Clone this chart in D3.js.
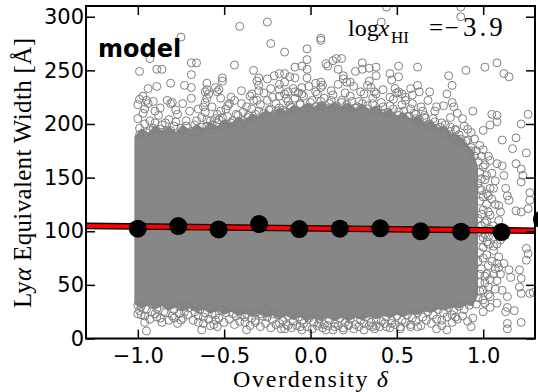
<!DOCTYPE html>
<html>
<head>
<meta charset="utf-8">
<script src="https://cdn.jsdelivr.net/npm/d3@7"></script>
<style>
  html, body { margin: 0; padding: 0; background: #fff; }
  svg { display: block; }
</style>
</head>
<body>
<svg id="chart" width="538" height="392"></svg>
<script>
// ---- data -------------------------------------------------------------
// Binned mean equivalent width versus overdensity
const binX = [-1.0, -0.766, -0.532, -0.298, -0.065, 0.17, 0.404, 0.638, 0.872, 1.106, 1.34];
const binMean = [102.4, 104.8, 101.7, 106.7, 102.0, 102.4, 102.7, 99.9, 99.6, 99.2, 111];

// Linear fit through the binned means
const fitX = [-1.3, 1.3];
const fitY = [105.0, 100.5];

// Envelope of the densely packed part of the sample
const coreX = [-1.02, -0.98, -0.94, -0.90, -0.86, -0.82, -0.78, -0.74, -0.70, -0.66, -0.62, -0.58, -0.54,
  -0.50, -0.46, -0.42, -0.38, -0.34, -0.30, -0.26, -0.22, -0.18, -0.14, -0.10, -0.06, -0.02, 0.02, 0.06,
  0.10, 0.14, 0.18, 0.22, 0.26, 0.30, 0.34, 0.38, 0.42, 0.46, 0.50, 0.54, 0.58, 0.62, 0.66, 0.70, 0.74,
  0.78, 0.82, 0.86, 0.90, 0.94, 0.97];
const coreTop = [188, 196, 192, 199, 194, 198, 193, 199, 195, 200, 196, 202, 198,
  204, 201, 207, 204, 210, 207, 213, 210, 216, 212, 218, 214, 220, 216, 221,
  217, 221, 216, 220, 215, 219, 214, 217, 211, 214, 208, 211, 205, 207, 201, 203, 197,
  198, 191, 190, 182, 176, 160];
const coreBottom = [32, 28, 31, 27, 30, 26, 29, 25, 28, 24, 27, 23, 26,
  22, 25, 21, 24, 20, 23, 19, 22, 18, 21, 17, 20, 16, 19, 16,
  19, 16, 19, 16, 19, 17, 20, 18, 21, 19, 22, 20, 23, 22, 25, 24, 27,
  26, 29, 28, 31, 30, 40];

// Individual galaxies outside the dense core: [overdensity, EW]
const sparse = [
  [-0.75,281],[-0.41,291],[-0.25,295],[0.41,295],[0.44,309],[0.87,300],[0.87,309],[0.06,280],[0.06,278],
  [-0.23,275],[-0.15,267],[-0.02,270],[-0.93,261],[-0.99,249],[-0.89,251],[-0.86,251],[-0.69,257],[-0.66,257],
  [-0.69,246],[-0.44,255],[-0.51,243],[-0.33,250],[-0.30,243],[-0.21,245],[-0.18,247],[-0.15,247],[-0.12,244],
  [-0.09,243],[-0.09,253],[-0.05,254],[-0.02,260],[0.10,254],[0.13,259],[0.15,261],[0.18,261],[0.16,251],
  [0.19,245],[0.30,257],[0.30,251],[0.34,252],[0.38,253],[0.38,245],[0.26,249],[0.51,254],[0.51,244],[0.62,253],
  [0.80,245],[0.90,250],[1.01,253],[1.08,257],[1.12,247],[1.15,244],[-0.81,238],[-0.69,234],[-0.73,236],
  [-0.94,233],[-0.99,223],[-0.97,226],[-0.89,235],[-0.60,238],[-0.61,230],[-0.60,232],[-0.55,234],[-0.53,232],
  [-0.51,240],[-0.40,231],[-0.31,240],[-0.30,236],[-0.30,231],[-0.46,225],[-0.95,222],[-0.94,219],[-0.80,220],
  [-0.81,219],[-0.90,212],[-0.54,230],[-0.59,228],[-0.60,224],[-0.62,216],[-0.61,211],[-0.47,219],[-0.49,214],
  [-0.52,212],[-0.54,209],[-0.55,205],[-0.34,228],[-0.33,222],[-0.37,216],[-0.25,242],[-0.23,233],[-0.18,237],
  [-0.15,239],[-0.15,228],[-0.13,230],[-0.09,230],[-0.07,229],[-0.05,234],[-0.02,243],[-0.02,251],[0.03,238],
  [0.06,239],[0.06,234],[0.09,256],[0.19,242],[0.21,239],[0.23,239],[0.34,240],[0.35,234],[0.37,230],[0.46,247],
  [0.47,241],[0.49,233],[0.50,229],[0.58,233],[0.62,236],[0.63,230],[0.69,230],[0.82,236],[0.79,228],[0.82,220],
  [0.83,216],[0.94,212],[0.88,205],[0.91,195],[1.05,209],[1.08,208],[1.08,202],[1.04,199],[1.00,194],[0.84,194],
  [0.95,186],[1.26,209],[1.22,200],[1.19,187],[1.11,185],[0.59,219],[0.61,209],[0.65,212],[0.73,216],[0.53,228],
  [0.55,225],
  [1.25,173],[1.22,158],[1.23,152],[1.22,146],[1.27,136],[1.27,129],[1.26,121],[1.14,133],[1.15,129],[1.19,119],
  [1.22,118],[1.25,84],[1.26,79],[1.25,73],[1.21,64],[1.22,56],[1.21,48],[1.22,42],[1.27,42],[1.15,64],[1.16,57],
  [1.13,25],[1.14,14],[1.22,15],[1.18,26],[1.04,166],[1.08,163],[1.11,161],[1.05,154],[1.07,147],[1.02,135],
  [1.05,130],[1.09,124],[1.10,118],[1.03,88],[1.06,82],[1.09,76],[1.08,70],[1.10,60],[1.08,54],[1.11,45],
  [1.14,39],[1.14,29],[1.03,48],[1.04,39],[1.01,33],[1.00,25],[0.94,19],[0.93,11],[0.79,8],[1.17,177],[1.19,163],
  [-1.00,31],[-1.00,23],[-0.98,22],[-0.96,15],[-0.95,7],[-0.92,25],[-0.89,20],[-0.86,15],[-0.82,17],[-0.79,19],
  [-0.76,23],[-0.75,17],[-0.67,25],[-0.65,15],[-0.63,8],[-0.62,20],[-0.57,23],[-0.55,17],[-0.54,11],[-0.58,12],
  [-0.45,23],[-0.40,22],[-0.37,8],[-0.38,15],[-0.32,17],[-0.29,23],[-0.25,20],[-0.22,23],[-0.18,14],[-0.15,9],
  [-0.13,12],[-0.06,11],[-0.05,17],[0.05,14],[0.09,8],[0.14,11],[0.19,8],[0.22,12],[0.31,14],[0.36,11],[0.38,12],
  [0.44,11],[0.47,14],[0.52,9],[0.58,11],[0.62,11],[0.73,9],[0.82,15],[0.84,20],[0.76,17],[1.04,29],[1.08,33],
  [1.14,9],[1.29,43]
];

// Galaxies crowding the rim of the dense core: [overdensity, EW]
const rimUpper = [
  [-1.00,205],[-0.99,196],[-0.97,210],[-0.95,192],[-0.93,203],[-0.91,196],[-0.88,208],[-0.86,199],[-0.84,193],
  [-0.82,204],[-0.79,198],[-0.77,209],[-0.74,194],[-0.72,203],[-0.70,212],[-0.67,199],[-0.65,193],[-0.63,206],
  [-0.60,198],[-0.58,203],[-0.56,195],[-0.53,204],[-0.50,199],[-0.48,207],[-0.46,201],[-0.43,209],[-0.41,199],
  [-0.39,211],[-0.36,206],[-0.34,214],[-0.32,209],[-0.29,218],[-0.27,210],[-0.25,222],[-0.23,214],[-0.20,219],
  [-0.18,226],[-0.16,213],[-0.13,221],[-0.11,216],[-0.09,224],[-0.06,218],[-0.04,226],[-0.01,215],[0.01,222],
  [0.04,228],[0.06,217],[0.08,224],[0.11,219],[0.13,227],[0.16,214],[0.18,222],[0.21,218],[0.23,226],[0.26,215],
  [0.28,221],[0.31,228],[0.33,217],[0.36,224],[0.38,213],[0.41,220],[0.43,210],[0.46,217],[0.48,223],[0.51,211],
  [0.53,218],[0.56,207],[0.58,214],[0.61,205],[0.63,201],[0.66,208],[0.68,199],[0.71,205],[0.73,196],[0.76,201],
  [0.78,190],[0.81,197],[0.83,186],[0.86,190],[0.88,182],[0.91,185],[0.93,178],
  [-1.00,218],[-0.96,214],[-0.91,221],[-0.87,215],[-0.83,222],[-0.78,213],[-0.74,219],[-0.69,224],[-0.65,214],
  [-0.61,220],[-0.57,216],[-0.52,224],[-0.48,217],[-0.44,222],[-0.40,219],[-0.35,226],[-0.31,222],[-0.27,229],
  [-0.22,225],[-0.18,232],[-0.14,224],[-0.10,233],[-0.05,228],[-0.01,235],[0.03,230],[0.07,236],[0.12,231],
  [0.16,237],[0.20,229],[0.25,235],[0.29,230],[0.33,236],[0.38,228],[0.42,232],[0.46,225],[0.51,230],[0.55,222],
  [0.59,227],[0.64,216],[0.68,222],[0.72,212],[0.77,217],[0.81,206],[0.85,210],[0.89,198],[0.93,192],
  [-0.99,190],[-0.96,200],[-0.93,194],[-0.90,201],[-0.87,195],[-0.84,201],[-0.81,194],[-0.78,202],[-0.75,196],
  [-0.72,198],[-0.69,193],[-0.66,203],[-0.63,197],[-0.60,204],[-0.57,199],[-0.54,201],[-0.51,206],[-0.48,200],
  [-0.45,203],[-0.42,208],[-0.39,203],[-0.36,208],[-0.33,205],[-0.30,212],[-0.27,207],[-0.24,213],[-0.21,209],
  [-0.18,215],[-0.15,211],[-0.12,217],[-0.09,213],[-0.06,219],[-0.03,214],[0.00,220],[0.03,216],[0.06,221],
  [0.09,215],[0.12,222],[0.15,217],[0.18,220],[0.21,215],[0.24,221],[0.27,216],[0.30,219],[0.33,214],[0.36,219],
  [0.39,213],[0.42,216],[0.45,211],[0.48,214],[0.51,208],[0.54,212],[0.57,207],[0.60,210],[0.63,204],[0.66,206],
  [0.69,200],[0.72,202],[0.75,197],[0.78,199],[0.81,193],[0.84,195],[0.87,186],[0.90,184],[0.93,175],[0.95,170]
];

const rimRight = [
  [0.96,175],[0.97,165],[0.99,170],[0.98,155],[1.00,160],[0.97,145],[0.99,138],[1.01,148],[0.98,128],[1.00,120],
  [1.02,125],[0.97,112],[0.99,105],[1.01,98],[0.98,92],[1.00,85],[1.02,78],[0.97,72],[0.99,65],[1.01,58],
  [0.98,52],[1.00,45],[0.97,38],[1.02,110],[1.04,115],[1.06,105],[1.03,95],[1.05,72],[1.07,65],[1.04,140],
  [1.02,60],[1.06,95],[1.08,88],[1.04,55],
  [0.98,180],[1.00,176],[0.99,149],[1.01,162],[1.03,170],[1.02,152],[0.98,140],[1.00,132],[1.03,133],[0.99,116],
  [1.01,108],[1.03,118],[0.98,100],[1.00,94],[1.02,90],[1.04,102],[0.98,80],[1.00,75],[1.03,68],[0.98,60],
  [1.01,52],[1.03,41],[0.98,44],[1.00,36],[0.96,32],[1.06,140],[1.07,125],[1.09,110],[1.06,86],[1.08,98],
  [1.10,92],[1.06,60],[1.09,66],[1.07,46],[1.12,100],[1.12,70],[1.13,140],[1.12,152]
];

const rimLower = [
  [-0.98,30],[-0.95,27],[-0.92,32],[-0.89,28],[-0.85,25],[-0.82,31],[-0.79,27],[-0.76,30],[-0.73,25],[-0.70,29],
  [-0.67,32],[-0.64,27],[-0.61,24],[-0.58,28],[-0.55,22],[-0.52,27],[-0.49,24],[-0.46,29],[-0.43,21],[-0.40,26],
  [-0.37,23],[-0.34,19],[-0.31,25],[-0.28,21],[-0.25,26],[-0.22,18],[-0.19,22],[-0.16,17],[-0.13,21],[-0.10,16],
  [-0.07,20],[-0.04,14],[-0.01,19],[0.02,15],[0.05,18],[0.08,13],[0.11,17],[0.14,14],[0.17,19],[0.20,15],
  [0.23,18],[0.26,13],[0.29,17],[0.32,20],[0.35,15],[0.38,18],[0.41,16],[0.44,20],[0.47,17],[0.50,21],
  [0.53,17],[0.56,22],[0.59,19],[0.62,24],[0.65,20],[0.68,25],[0.71,22],[0.74,27],[0.77,24],[0.80,29],
  [0.83,26],[0.86,30],[0.89,27],[0.92,31],
  [-0.99,26],[-0.96,21],[-0.93,18],[-0.90,23],[-0.87,19],[-0.84,24],[-0.80,21],[-0.77,14],[-0.74,19],[-0.71,22],
  [-0.68,17],[-0.65,21],[-0.62,14],[-0.59,18],[-0.56,13],[-0.53,19],[-0.50,15],[-0.47,18],[-0.44,13],[-0.41,16],
  [-0.38,20],[-0.35,12],[-0.32,15],[-0.29,11],[-0.26,14],[-0.23,10],[-0.20,13],[-0.17,9],[-0.14,13],[-0.11,10],
  [-0.08,12],[-0.05,8],[-0.02,11],[0.01,9],[0.04,12],[0.07,10],[0.10,12],[0.13,8],[0.16,12],[0.19,10],
  [0.22,13],[0.25,9],[0.28,11],[0.31,8],[0.34,12],[0.37,9],[0.40,11],[0.43,14],[0.46,10],[0.49,13],
  [0.52,11],[0.55,15],[0.58,13],[0.61,16],[0.64,12],[0.67,17],[0.70,14],[0.73,18],[0.76,12],[0.79,20],
  [0.82,22],[0.85,18],[0.88,21],[0.91,16]
];

const xTicks = [-1.0, -0.5, 0.0, 0.5, 1.0];
const yTicks = [0, 50, 100, 150, 200, 250, 300];

// ---- layout -----------------------------------------------------------
const plot = { left: 86, right: 535, top: 6, bottom: 338.5 };
const grey = "#808080";

const svg = d3.select("#chart");
const x = d3.scaleLinear().domain([-1.3, 1.3]).range([plot.left, plot.right]);
const y = d3.scaleLinear().domain([0, 310]).range([plot.bottom, plot.top]);

svg.append("defs").append("clipPath").attr("id", "plotclip")
  .append("rect")
  .attr("x", plot.left).attr("y", plot.top)
  .attr("width", plot.right - plot.left).attr("height", plot.bottom - plot.top);

const inner = svg.append("g").attr("clip-path", "url(#plotclip)");

// dense core of the sample
const core = coreX.map((v, i) => ({ x: v, hi: coreTop[i], lo: coreBottom[i] }));
inner.append("path")
  .datum(core)
  .attr("fill", "#878787")
  .attr("d", d3.area().x(d => x(d.x)).y0(d => y(d.lo)).y1(d => y(d.hi)));

// open grey markers
inner.append("g")
  .selectAll("circle")
  .data(rimUpper.concat(rimRight, rimLower, sparse))
  .join("circle")
  .attr("cx", d => x(d[0]))
  .attr("cy", d => y(d[1]))
  .attr("r", 4)
  .attr("fill", "none")
  .attr("stroke", grey)
  .attr("stroke-width", 1);

// fit line: red with a black outline
const fitLine = d3.line().x(d => x(d[0])).y(d => y(d[1]));
const fitPts = fitX.map((v, i) => [v, fitY[i]]);
inner.append("path").datum(fitPts).attr("d", fitLine)
  .attr("stroke", "#000").attr("stroke-width", 6.6).attr("fill", "none");
inner.append("path").datum(fitPts).attr("d", fitLine)
  .attr("stroke", "#ff0000").attr("stroke-width", 4).attr("fill", "none");

// binned means (not clipped)
svg.append("g")
  .selectAll("circle")
  .data(binX.map((v, i) => [v, binMean[i]]))
  .join("circle")
  .attr("cx", d => x(d[0]))
  .attr("cy", d => y(d[1]))
  .attr("r", 9)
  .attr("fill", "#000");

// ---- axes -------------------------------------------------------------
const tickLen = 9;
const fmtX = d3.format(".1f");

const gx = svg.append("g").attr("transform", `translate(0,${plot.bottom})`)
  .call(d3.axisBottom(x).tickValues(xTicks).tickFormat(fmtX).tickSize(-tickLen).tickPadding(10));
const gxTop = svg.append("g").attr("transform", `translate(0,${plot.top})`)
  .call(d3.axisTop(x).tickValues(xTicks).tickFormat("").tickSize(-tickLen));
const gy = svg.append("g").attr("transform", `translate(${plot.left},0)`)
  .call(d3.axisLeft(y).tickValues(yTicks).tickFormat(d3.format("d")).tickSize(-tickLen).tickPadding(2));
const gyRight = svg.append("g").attr("transform", `translate(${plot.right},0)`)
  .call(d3.axisRight(y).tickValues(yTicks).tickFormat("").tickSize(-tickLen));

[gx, gxTop, gy, gyRight].forEach(g => {
  g.select(".domain").remove();
  g.selectAll(".tick line").attr("stroke", "#000").attr("stroke-width", 1.5);
  g.selectAll(".tick text")
    .attr("fill", "#000")
    .style("font-family", "'DejaVu Sans', sans-serif")
    .style("font-size", "21px");
});

// frame
svg.append("rect")
  .attr("x", plot.left).attr("y", plot.top)
  .attr("width", plot.right - plot.left).attr("height", plot.bottom - plot.top)
  .attr("fill", "none").attr("stroke", "#000").attr("stroke-width", 2);

// ---- labels -----------------------------------------------------------
const serif = "'Liberation Serif', 'DejaVu Serif', serif";

const xl = svg.append("text")
  .attr("x", 310.5).attr("y", 387)
  .attr("text-anchor", "middle")
  .attr("font-family", serif).attr("font-size", 24)
  .attr("textLength", 155).attr("lengthAdjust", "spacing");
xl.append("tspan").text("Overdensity ");
xl.append("tspan").attr("font-style", "italic").text("δ");

const yl = svg.append("text")
  .attr("transform", "translate(31,173) rotate(-90)")
  .attr("text-anchor", "middle")
  .attr("font-family", serif).attr("font-size", 25)
  .attr("textLength", 270).attr("lengthAdjust", "spacing");
yl.append("tspan").text("Ly");
yl.append("tspan").attr("font-style", "italic").text("α");
yl.append("tspan").text(" Equivalent Width [Å]");

svg.append("text")
  .attr("x", 98).attr("y", 56.5)
  .attr("font-family", "'DejaVu Sans', sans-serif")
  .attr("font-weight", "bold").attr("font-size", 24)
  .text("model");

// neutral fraction annotation
const ann = svg.append("g").attr("font-family", serif).attr("fill", "#000").attr("font-size", 24);
ann.append("text").attr("x", 348).attr("y", 36).text("log");
ann.append("text").attr("x", 378.5).attr("y", 36).attr("font-style", "italic").text("x");
ann.append("text").attr("x", 391).attr("y", 43).attr("font-size", 17).text("HI");
ann.append("text").attr("x", 429).attr("y", 36).attr("font-size", 25).text("=");
ann.append("text").attr("x", 444.5).attr("y", 36).attr("font-size", 25).text("−");
ann.append("text").attr("x", 463).attr("y", 36).attr("font-size", 27).attr("letter-spacing", 3).text("3.9");
</script>
</body>
</html>
